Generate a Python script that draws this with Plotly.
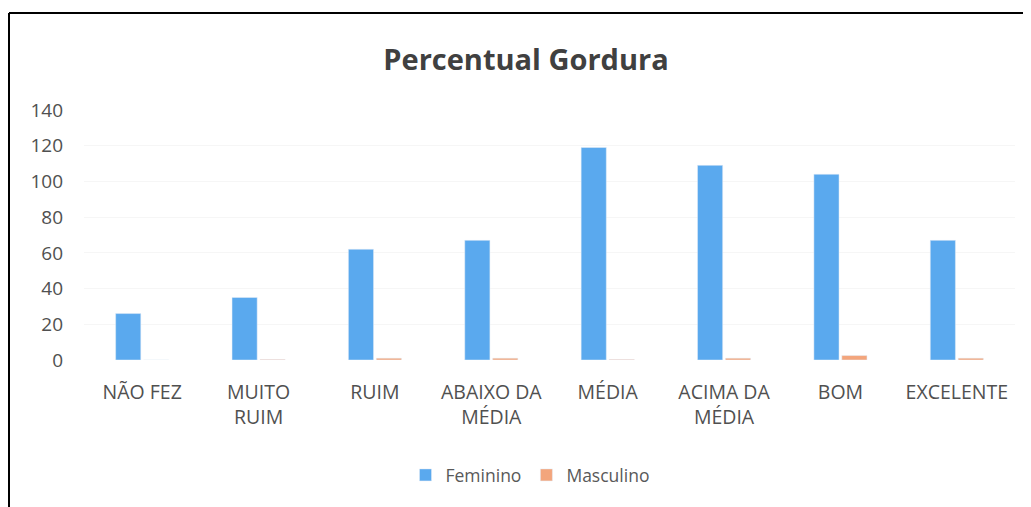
import plotly.graph_objects as go

categories = ["NÃO FEZ", "MUITO<br>RUIM", "RUIM", "ABAIXO DA<br>MÉDIA", "MÉDIA",
              "ACIMA DA<br>MÉDIA", "BOM", "EXCELENTE"]
feminino = [26, 35, 62, 67, 119, 109, 104, 67]
masculino = [0, 0.3, 1, 1, 0.3, 1, 2.5, 1]
y_ticks = [0, 20, 40, 60, 80, 100, 120, 140]

# page body has an 8px margin, so the figure starts at page (8, 8)
OFF = 8
W, H = 1031 - OFF, 507 - OFF
L, R, T, B = 84 - OFF, 16, 110 - OFF, 147
pw, ph = W - L - R, H - T - B

def px_x(px):
    return (px - OFF - L) / pw

def px_y(py):
    return (H - B - (py - OFF)) / ph

fig = go.Figure()
fig.add_trace(go.Bar(name="Feminino", x=categories, y=feminino, marker_color="#5AA9EE"))
fig.add_trace(go.Bar(name="Masculino", x=categories, y=masculino, marker_color="#F3A57C"))

font_family = "Open Sans, sans-serif"
fig.update_layout(
    width=W, height=H,
    margin=dict(l=L, r=R, t=T, b=B, autoexpand=False),
    paper_bgcolor="white", plot_bgcolor="white",
    barmode="group", bargap=0.52, bargroupgap=0.1,
    font=dict(family=font_family, color="#505050", size=18),
    title=dict(text="<b>Percentual Gordura</b>", x=px_x(526), xref="paper",
               xanchor="center", y=1 - (60 - OFF) / H, yanchor="middle",
               font=dict(size=29, color="#404040", family=font_family)),
    legend=dict(orientation="h", x=px_x(530), xanchor="center",
                y=px_y(475), yanchor="middle",
                font=dict(size=17.5, color="#595959"), itemwidth=30,
                traceorder="normal"),
    showlegend=True,
)
fig.update_xaxes(showgrid=False, showline=False, ticks="", zeroline=False,
                 tickfont=dict(size=19.5, color="#505050"), ticklabelstandoff=18)
fig.update_yaxes(range=[0, 140], tickvals=y_ticks, showgrid=True,
                 gridcolor="#F6F6F6", gridwidth=1, zeroline=False, showline=False,
                 ticks="", tickfont=dict(size=19, color="#505050"),
                 ticklabelstandoff=20)

fig.add_shape(type="line", xref="paper", yref="paper",
              x0=px_x(9), x1=px_x(1040), y0=px_y(13), y1=px_y(13),
              line=dict(color="black", width=2))
fig.add_shape(type="line", xref="paper", yref="paper",
              x0=px_x(9), x1=px_x(9), y0=px_y(13), y1=px_y(515),
              line=dict(color="black", width=2))

fig.write_html("out.html")
